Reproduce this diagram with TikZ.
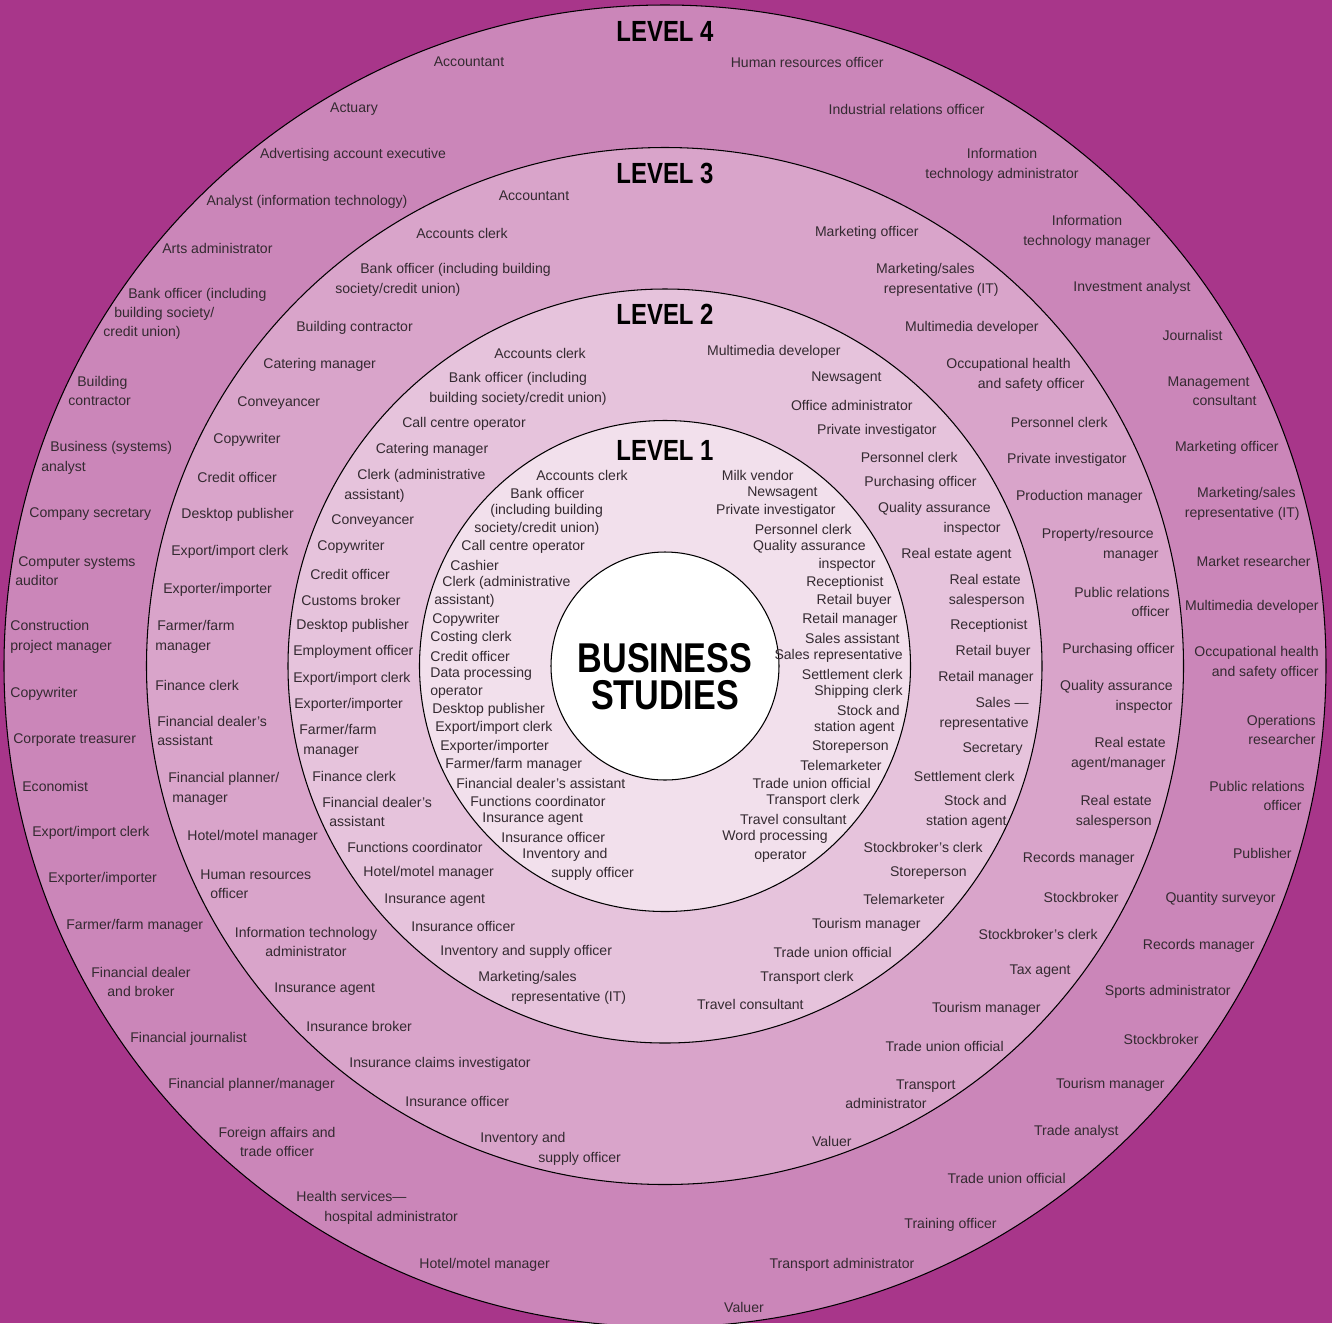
\documentclass[tikz,border=0pt]{standalone}
\usepackage{fontspec}
\usepackage{tikz}
\newfontfamily\labfont{Liberation Sans}
\newfontfamily\headfont[FakeStretch=0.82]{Liberation Sans}
\definecolor{bgpurple}{HTML}{A8368A}
\definecolor{ringfour}{HTML}{CB86B9}
\definecolor{ringthree}{HTML}{D9A4CA}
\definecolor{ringtwo}{HTML}{E6C3DC}
\definecolor{ringone}{HTML}{F2E0EC}
\definecolor{labtext}{HTML}{342A31}

\begin{document}
\begin{tikzpicture}[x=0.02cm,y=-0.02cm,
  lab/.style={font=\labfont\fontsize{8}{11}\selectfont,text=labtext,inner sep=0pt},
  lw/.style={lab,anchor=west,align=left},
  le/.style={lab,anchor=east,align=right},
  lc/.style={lab,anchor=center,align=center},
  levhead/.style={font=\headfont\bfseries\fontsize{16.6}{18}\selectfont,inner sep=0pt},
  ring/.style={draw=black,line width=0.6pt}]
  \useasboundingbox (0,0) rectangle (1332,1323);
  \clip (0,0) rectangle (1332,1323);
  \fill[bgpurple] (0,0) rectangle (1332,1323);

  % rings
  \coordinate (c) at (665,666);
  \filldraw[ring,fill=ringfour] (c) circle (661);
  \filldraw[ring,fill=ringthree] (c) circle (518.5);
  \filldraw[ring,fill=ringtwo] (c) circle (377);
  \filldraw[ring,fill=ringone] (c) circle (245.5);
  \filldraw[ring,fill=white] (c) circle (114);

  \node[levhead] (lev4) at (665,31) {LEVEL 4};
  \node[levhead] (lev3) at (665,173) {LEVEL 3};
  \node[levhead] (lev2) at (665,314) {LEVEL 2};
  \node[levhead] (lev1) at (665,450) {LEVEL 1};
  \node[font=\headfont\bfseries\fontsize{23.7}{21}\selectfont,align=center,inner sep=0pt] (core) at (665,677) {BUSINESS\\STUDIES};

  % level 4
  \foreach \x/\y/\txt [count=\i] in {469/62/Accountant, 354/109/Actuary,
      353/155/Advertising account executive, 307/202/{Analyst (information technology)},
      141/982/{Financial dealer\\and broker}, 277/1142/{Foreign affairs and\\trade officer},
      744/1307/Valuer, 1002/165/{Information\\technology administrator},
      1087/232/{Information\\technology manager}, 842/1265/Transport administrator}
    \node[lc] (fourc\i) at (\x,\y) {\txt};
  \foreach \x/\y/\txt [count=\i] in {162/248/Arts administrator,
      103/314/{\hspace*{0.5cm}Bank officer (including\\\hspace*{0.22cm}building society/\\credit union)},
      68/391/{\hspace*{0.18cm}Building\\contractor},
      41/458/{\hspace*{0.18cm}Business (systems)\\analyst},
      29/514/Company secretary,
      15/571/{\hspace*{0.06cm}Computer systems\\auditor},
      10/637/{Construction\\project manager},
      10/694/Copywriter, 13/740/Corporate treasurer, 22/786/Economist,
      32/833/{Export/import clerk}, 48/879/{Exporter/importer},
      66/926/{Farmer/farm manager}, 130/1039/Financial journalist,
      168/1085/{Financial planner/manager},
      296/1208/{Health services—\\\hspace*{0.56cm}hospital administrator},
      419/1265/{Hotel/motel manager}}
    \node[lw] (fourw\i) at (\x,\y) {\txt};
  \foreach \x/\y/\txt [count=\i] in {884/62/Human resources officer,
      985/109/Industrial relations officer, 1191/288/Investment analyst,
      1223/335/Journalist, 1257/391/{Management\hspace*{0.14cm}\\consultant},
      1279/448/Marketing officer,
      1300/504/{Marketing/sales\hspace*{0.08cm}\\representative (IT)},
      1311/561/Market researcher, 1319/607/Multimedia developer,
      1319/663/{Occupational health\\and safety officer},
      1316/730/{Operations\\researcher},
      1305/796/{Public relations\\officer\hspace*{0.06cm}},
      1292/853/Publisher, 1276/899/Quantity surveyor, 1255/946/Records manager,
      1231/992/Sports administrator, 1199/1039/Stockbroker,
      1165/1085/Tourism manager, 1119/1132/Trade analyst,
      1066/1178/Trade union official, 997/1225/Training officer}
    \node[le] (foure\i) at (\x,\y) {\txt};

  % level 3
  \foreach \x/\y/\txt [count=\i] in {534/196/Accountant, 462/233/Accounts clerk,
      306/942/{Information technology\\administrator}}
    \node[lc] (threec\i) at (\x,\y) {\txt};
  \foreach \x/\y/\txt [count=\i] in {
      335/280/{\hspace*{0.5cm}Bank officer (including building\\society/credit union)},
      296/328/Building contractor, 263/365/Catering manager, 237/403/Conveyancer,
      213/440/Copywriter, 197/477/Credit officer, 181/515/Desktop publisher,
      171/552/{Export/import clerk}, 163/590/{Exporter/importer},
      155/637/{\hspace*{0.04cm}Farmer/farm\\manager}, 155/685/Finance clerk,
      157/731/{Financial dealer’s\\assistant},
      168/789/{Financial planner/\\\hspace*{0.08cm}manager},
      187/837/{Hotel/motel manager},
      200/884/{Human resources\\\hspace*{0.2cm}officer},
      274/989/Insurance agent, 306/1026/Insurance broker,
      349/1064/Insurance claims investigator, 405/1101/Insurance officer,
      480/1149/{Inventory and\\\hspace*{1.16cm}supply officer}}
    \node[lw] (threew\i) at (\x,\y) {\txt};
  \foreach \x/\y/\txt [count=\i] in {919/233/Marketing officer,
      999/280/{Marketing/sales\hspace*{0.48cm}\\representative (IT)},
      1039/328/Multimedia developer,
      1085/375/{Occupational health\hspace*{0.28cm}\\and safety officer},
      1108/422/Personnel clerk, 1127/460/Private investigator,
      1143/497/Production manager,
      1159/545/{Property/resource\hspace*{0.1cm}\\manager},
      1170/602/{Public relations\\officer}, 1175/650/Purchasing officer,
      1173/697/{Quality assurance\\inspector},
      1166/754/{Real estate\\agent/manager},
      1152/812/{Real estate\\salesperson},
      1135/859/Records manager, 1119/897/Stockbroker,
      1098/934/Stockbroker’s clerk, 1071/971/Tax agent,
      1041/1009/Tourism manager, 1004/1046/Trade union official,
      956/1094/{Transport\\administrator\hspace*{0.58cm}}, 852/1141/Valuer}
    \node[le] (threee\i) at (\x,\y) {\txt};

  % level 2
  \foreach \x/\y/\txt [count=\i] in {540/353/Accounts clerk,
      518/389/{Bank officer (including\\building society/credit union)},
      464/424/Call centre operator, 432/450/Catering manager}
    \node[lc] (twoc\i) at (\x,\y) {\txt};
  \foreach \x/\y/\txt [count=\i] in {
      344/486/{\hspace*{0.26cm}Clerk (administrative\\assistant)},
      331/521/Conveyancer, 317/547/Copywriter, 310/574/Credit officer,
      301/600/Customs broker, 296/626/Desktop publisher,
      293/652/Employment officer, 293/679/{Export/import clerk},
      294/705/{Exporter/importer},
      299/741/{Farmer/farm\\\hspace*{0.08cm}manager}, 312/776/Finance clerk,
      322/812/{Financial dealer’s\\\hspace*{0.14cm}assistant},
      347/847/Functions coordinator, 363/873/{Hotel/motel manager},
      384/900/Insurance agent, 411/926/Insurance officer,
      440/952/Inventory and supply officer,
      478/988/{Marketing/sales\\\hspace*{0.66cm}representative (IT)}}
    \node[lw] (twow\i) at (\x,\y) {\txt};
  \foreach \x/\y/\txt [count=\i] in {841/352/Multimedia developer,
      882/378/Newsagent, 913/405/Office administrator,
      937/431/Private investigator, 958/457/Personnel clerk,
      977/483/Purchasing officer,
      1001/519/{Quality assurance\hspace*{0.2cm}\\inspector},
      1012/555/Real estate agent,
      1025/591/{Real estate\hspace*{0.08cm}\\salesperson},
      1028/626/Receptionist, 1031/652/Retail buyer, 1034/678/Retail manager,
      1029/714/{Sales —\\representative}, 1023/749/Secretary,
      1015/776/Settlement clerk, 1007/812/{Stock and\\station agent},
      983/847/Stockbroker’s clerk, 967/873/Storeperson,
      945/899/Telemarketer, 921/925/Tourism manager,
      892/952/Trade union official, 854/978/Transport clerk,
      804/1004/Travel consultant}
    \node[le] (twoe\i) at (\x,\y) {\txt};

  % level 1
  \foreach \x/\y/\txt [count=\i] in {536/475/Accounts clerk,
      510/493/Bank officer, 490/511/(including building,
      474/529/{society/credit union)}, 461/547/Call centre operator,
      450/565/Cashier, 442/583/Clerk (administrative, 434/601/assistant),
      432/620/Copywriter, 430/638/Costing clerk, 430/656/Credit officer,
      430/674/Data processing, 430/692/operator, 432/710/Desktop publisher,
      435/728/{Export/import clerk}, 440/747/{Exporter/importer},
      445/765/{Farmer/farm manager}, 456/783/Financial dealer’s assistant,
      470/801/Functions coordinator, 482/819/Insurance agent,
      501/837/Insurance officer, 522/855/Inventory and,
      551/874/supply officer}
    \node[lw] (onew\i) at (\x,\y) {\txt};
  \foreach \x/\y/\txt [count=\i] in {794/475/Milk vendor,
      818/493/Newsagent, 836/511/Private investigator,
      852/529/Personnel clerk, 866/547/Quality assurance,
      876/565/inspector, 884/583/Receptionist, 892/601/Retail buyer,
      898/620/Retail manager, 900/638/Sales assistant,
      903/656/Sales representative, 903/674/Settlement clerk,
      903/692/Shipping clerk, 900/710/Stock and, 895/728/station agent,
      889/747/Storeperson, 882/765/Telemarketer,
      871/783/Trade union official, 860/801/Transport clerk,
      847/819/Travel consultant, 828/837/Word processing,
      807/856/operator}
    \node[le] (onee\i) at (\x,\y) {\txt};
\end{tikzpicture}
\end{document}
